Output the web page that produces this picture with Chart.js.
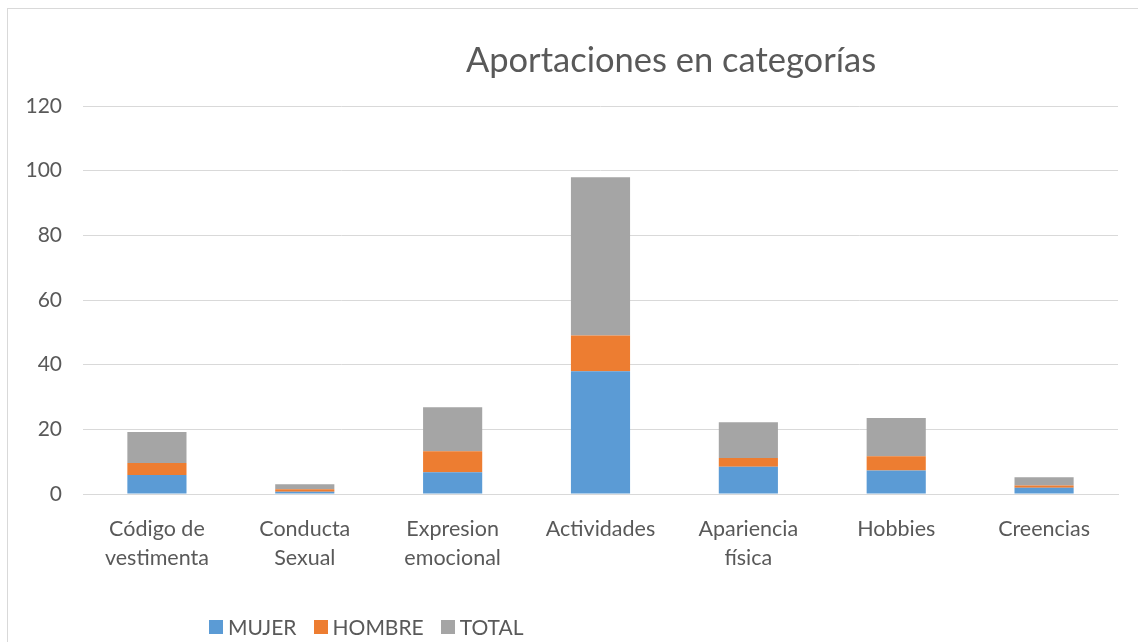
<!DOCTYPE html>
<html>
<head>
<meta charset="utf-8">
<script src="https://cdn.jsdelivr.net/npm/chart.js@4/dist/chart.umd.min.js"></script>
<style>
  html, body { margin: 0; padding: 0; background: #fff; }
  #wrap { position: relative; width: 1138px; height: 642px; overflow: hidden; }
  #frame { position: absolute; left: 7px; top: 8px; width: 1140px; height: 650px; border: 1px solid #d9d9d9; box-sizing: border-box; }
  #grafico { position: absolute; left: 0; top: 0; }
  #titulo { position: absolute; left: 671px; top: 42px; transform: translateX(-50%); font-family: Lato, sans-serif; font-size: 34.5px; color: #595959; white-space: nowrap; line-height: 1; }
  #leyenda { position: absolute; left: 209px; top: 614px; display: flex; font-family: Lato, sans-serif; font-size: 21px; color: #595959; line-height: 26px; }
  #leyenda span.item { display: flex; align-items: center; margin-right: 17px; }
  #leyenda span.cuadro { width: 14px; height: 14px; margin-right: 5px; display: inline-block; }
</style>
</head>
<body>
<div id="wrap">
  <div id="frame"></div>
  <canvas id="grafico" width="1138" height="642"></canvas>
  <div id="titulo">Aportaciones en categorías</div>
  <div id="leyenda"></div>
</div>
<script>
const categorias = [['Código de', 'vestimenta'], ['Conducta', 'Sexual'], ['Expresion', 'emocional'], 'Actividades', ['Apariencia', 'física'], 'Hobbies', 'Creencias'];
const mujer = [5.9, 0.7, 6.7, 38, 8.4, 7.3, 1.9];
const hombre = [3.7, 0.8, 6.5, 11, 2.7, 4.4, 0.7];
const total = [9.6, 1.5, 13.6, 49, 11.1, 11.8, 2.6];
const series = ['MUJER', 'HOMBRE', 'TOTAL'];
const colores = ['#5b9bd5', '#ed7d31', '#a5a5a5'];

const texto = '#595959';
const rejilla = '#d9d9d9';

const datos = [mujer, hombre, total];

// leyenda hecha a mano, debajo del grafico
const leyenda = document.getElementById('leyenda');
series.forEach((nombre, i) => {
    const item = document.createElement('span');
    item.className = 'item';
    const cuadro = document.createElement('span');
    cuadro.className = 'cuadro';
    cuadro.style.background = colores[i];
    item.appendChild(cuadro);
    item.appendChild(document.createTextNode(nombre));
    leyenda.appendChild(item);
});

const grafico = document.getElementById('grafico');

new Chart(grafico, {
    type: 'bar',
    data: {
        labels: categorias,
        datasets: series.map((nombre, i) => ({
            label: nombre,
            data: datos[i],
            backgroundColor: colores[i],
            borderWidth: 0,
            categoryPercentage: 1,
            barPercentage: 0.4
        }))
    },
    options: {
        responsive: false,
        animation: false,
        layout: {
            padding: { left: 8, top: 106, right: 20, bottom: 0 }
        },
        plugins: {
            legend: { display: false },
            title: { display: false },
            tooltip: { enabled: false }
        },
        scales: {
            x: {
                stacked: true,
                grid: { display: false },
                border: { color: rejilla, width: 1 },
                ticks: {
                    color: texto,
                    font: { family: 'Lato', size: 21.5, lineHeight: 1.35 },
                    padding: 13,
                    maxRotation: 0
                },
                afterFit: (scale) => { scale.height = 148; }
            },
            y: {
                stacked: true,
                min: 0,
                max: 120,
                grid: { color: rejilla, drawTicks: false },
                border: { display: false },
                ticks: {
                    stepSize: 20,
                    color: texto,
                    font: { family: 'Lato', size: 21 },
                    padding: 21
                },
                afterFit: (scale) => { scale.width = 75; }
            }
        }
    }
});
</script>
</body>
</html>
